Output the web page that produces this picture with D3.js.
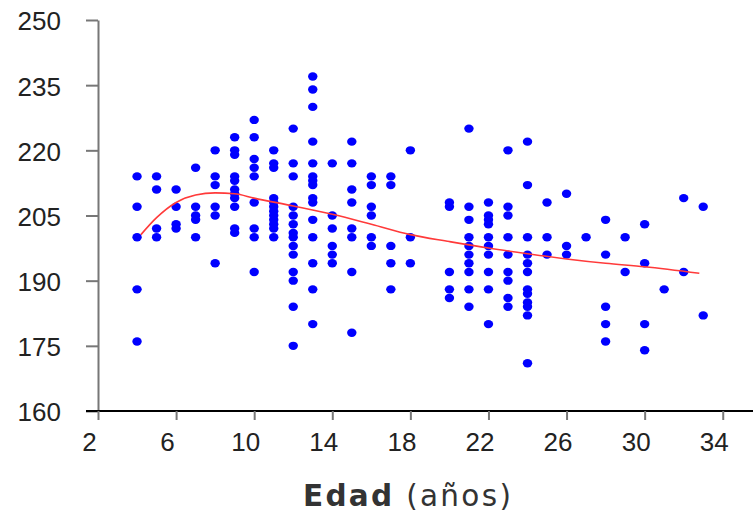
<!DOCTYPE html>
<html>
<head>
<meta charset="utf-8">
<script src="https://cdn.jsdelivr.net/npm/d3@7"></script>
<style>
    body { margin: 0; background: #fff; }
    #chart { width: 753px; height: 515px; }
    .tick text { font-family: "Liberation Sans", Arial, sans-serif; font-size: 26px; fill: #222; }
</style>
</head>
<body>
<div id="chart"></div>
<script>
// edades (eje x) y valores de cada columna de puntos
const edades = [4, 5, 6, 7, 8, 9, 10, 11, 12, 13, 14, 15, 16, 17, 18, 20, 21, 22, 23, 24, 25, 26, 27, 28, 29, 30, 31, 32, 33];
const valoresPorEdad = [
    [214, 207, 200, 188, 176],
    [214, 211, 202, 200],
    [211, 207, 203, 202],
    [216, 207, 205, 204, 200],
    [220, 214, 212, 207, 205, 194],
    [223, 220, 219, 214, 213, 211, 210, 209, 207, 202, 201],
    [227, 223, 218, 216, 214, 208, 202, 200, 192],
    [220, 217, 216, 209, 208, 207, 206, 205, 204, 203, 202, 200],
    [225, 217, 214, 207, 205, 203, 201, 200, 198, 196, 192, 190, 184, 175],
    [237, 234, 230, 222, 217, 214, 213, 212, 209, 208, 204, 200, 194, 188, 180],
    [217, 205, 202, 198, 196, 194],
    [222, 217, 211, 208, 202, 200, 192, 178],
    [214, 212, 207, 205, 200, 198],
    [214, 212, 198, 194, 188],
    [220, 200, 194],
    [208, 207, 192, 188, 186],
    [225, 207, 204, 200, 198, 196, 194, 192, 188, 184],
    [208, 205, 204, 203, 200, 198, 196, 192, 188, 180],
    [220, 207, 205, 200, 196, 192, 190, 186, 184],
    [222, 212, 200, 196, 194, 192, 188, 187, 185, 184, 182, 171],
    [208, 200, 196],
    [210, 198, 196],
    [200],
    [204, 196, 184, 180, 176],
    [200, 192],
    [203, 194, 180, 174],
    [188],
    [209, 192],
    [207, 182]
];

// curva de ajuste
const curvaEdad  = [4.2, 5, 6, 7, 8, 9, 10, 12, 14, 16, 18, 20, 22, 24, 26, 28, 30, 32.8];
const curvaValor = [200.6, 204.5, 208, 209.7, 210.2, 210, 209, 207.2, 205.3, 203, 200.6, 199, 197.5, 196.2, 195, 194, 193.2, 191.7];

const xTicks = [2, 6, 10, 14, 18, 22, 26, 30, 34];
const yTicks = [160, 175, 190, 205, 220, 235, 250];

const margin = {top: 20, right: 0, bottom: 104, left: 98};
const width = 753 - margin.left - margin.right;
const height = 515 - margin.top - margin.bottom;

const svg = d3.select("#chart").append("svg")
    .attr("width", 753)
    .attr("height", 515)
    .append("g")
    .attr("transform", "translate(" + margin.left + "," + margin.top + ")");

const x = d3.scaleLinear().domain([2, 35.55]).range([0, width]);
const y = d3.scaleLinear().domain([160, 250]).range([height, 0]);

// eje y
const yAxisG = svg.append("g")
    .call(d3.axisLeft(y).tickValues(yTicks).tickSize(12).tickSizeOuter(0).tickPadding(25));
yAxisG.select(".domain").attr("stroke", "#777").attr("stroke-width", 2);
yAxisG.selectAll(".tick line").attr("stroke", "#777").attr("stroke-width", 2);
yAxisG.selectAll(".tick text").attr("dy", "0.38em");

// eje x
const xAxisG = svg.append("g")
    .attr("transform", "translate(0," + height + ")")
    .call(d3.axisBottom(x).tickValues(xTicks).tickSize(9).tickSizeOuter(0).tickPadding(12));
xAxisG.select(".domain").attr("d", "M-12,0H" + width).attr("stroke", "#000").attr("stroke-width", 2);
xAxisG.selectAll(".tick line").attr("stroke", "#777").attr("stroke-width", 2);
xAxisG.selectAll(".tick text").attr("dx", -9).attr("dy", "0.72em");

// puntos
const puntos = [];
edades.forEach((e, i) => {
    valoresPorEdad[i].forEach(v => puntos.push({edad: e, valor: v}));
});

svg.append("g")
    .selectAll("ellipse")
    .data(puntos)
    .enter().append("ellipse")
    .attr("cx", d => x(d.edad))
    .attr("cy", d => y(d.valor))
    .attr("rx", 4.7)
    .attr("ry", 4.2)
    .attr("fill", "#0000ff");

// curva roja
const curva = curvaEdad.map((e, i) => ({edad: e, valor: curvaValor[i]}));
svg.append("path")
    .datum(curva)
    .attr("fill", "none")
    .attr("stroke", "#ff3a3a")
    .attr("stroke-width", 1.6)
    .attr("d", d3.line().x(d => x(d.edad)).y(d => y(d.valor)).curve(d3.curveMonotoneX));

// titulo del eje x
const label = svg.append("text")
    .attr("x", 303 - margin.left)
    .attr("y", 506 - margin.top)
    .attr("font-family", "'DejaVu Sans', Verdana, sans-serif")
    .attr("font-size", 29.5)
    .attr("letter-spacing", 2.3)
    .attr("fill", "#333");
label.append("tspan").attr("font-weight", "bold").text("Edad");
label.append("tspan").text(" (años)");
</script>
</body>
</html>
